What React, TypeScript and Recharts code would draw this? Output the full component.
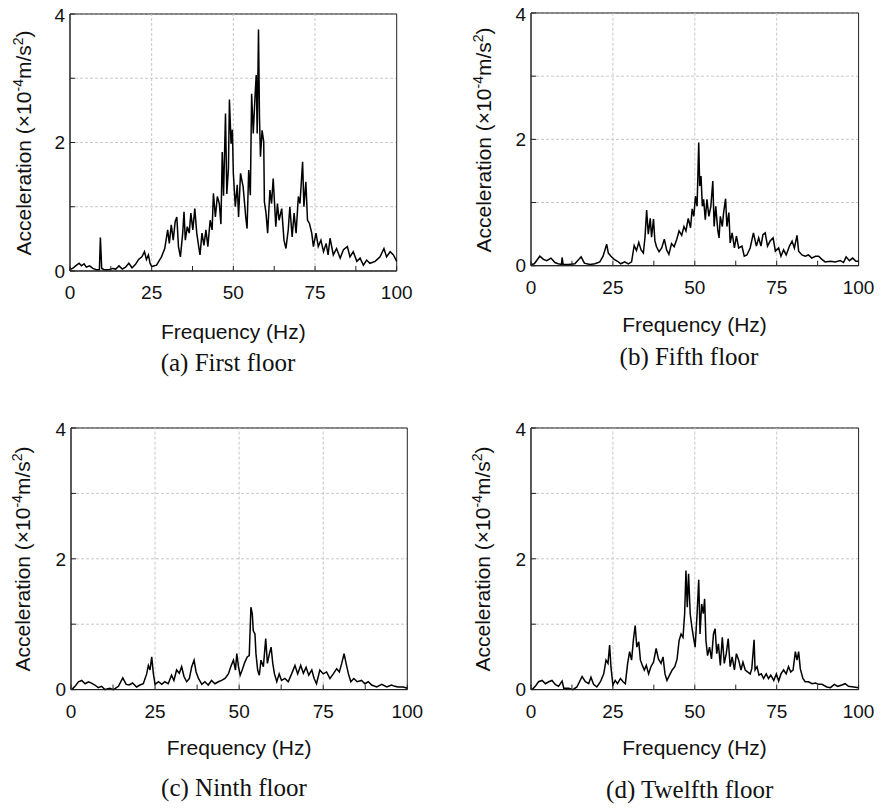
import { LineChart, Line, XAxis, YAxis, CartesianGrid, ReferenceLine, ReferenceArea } from 'recharts';

// values (Hz, x10^-4 m/s^2)
const firstFreq = [
  0, 1, 2, 2.8, 3.5, 4.3, 5, 6, 7, 8, 9, 9.3, 9.7, 10.5, 12, 13, 14, 15, 16, 17, 18, 19, 20, 21, 22, 22.8,
  23.4, 24, 24.5, 25, 26.5, 28, 29, 29.9, 30.4, 31, 31.6, 32.2, 32.7, 33.2, 33.8, 34.5, 34.9, 35.3, 35.9,
  36.5, 37, 37.6, 38.2, 38.8, 39.4, 39.8, 40.4, 41, 41.6, 42.2, 42.9, 43.5, 43.9, 44.5, 45.1, 45.7, 46.2,
  46.6, 47, 47.6, 48, 48.5, 48.8, 49.3, 49.7, 50, 50.6, 51.2, 51.6, 52.2, 53, 53.8, 54.2, 54.7, 55.2, 55.6,
  56.1, 56.6, 57, 57.3, 57.7, 58, 58.3, 58.8, 59.3, 59.5, 60, 60.5, 61.2, 61.7, 62.2, 63, 63.5, 64, 64.8,
  65.5, 66.1, 66.8, 67.3, 68, 68.6, 69.2, 69.9, 70.4, 71.2, 71.6, 72.2, 72.7, 73.3, 74, 74.5, 75.3, 76,
  76.8, 77.6, 78.4, 79, 79.6, 80.6, 81.6, 82.7, 83.7, 84.9, 85.7, 86.7, 87.8, 88.8, 89.8, 90.8, 91.8, 93.4,
  94.9, 96.1, 96.9, 98, 99, 100,
];
const firstAcc = [
  0.02, 0.05, 0.09, 0.12, 0.08, 0.11, 0.06, 0.08, 0.04, 0.02, 0.02, 0.52, 0.04, 0.02, 0.02, 0.04, 0.03, 0.08,
  0.03, 0.06, 0.12, 0.05, 0.1, 0.18, 0.22, 0.3, 0.18, 0.25, 0.12, 0.07, 0.09, 0.22, 0.35, 0.64, 0.43, 0.72,
  0.48, 0.77, 0.84, 0.38, 0.22, 0.59, 0.92, 0.48, 0.69, 0.59, 0.9, 0.64, 0.97, 0.59, 0.38, 0.25, 0.59, 0.4,
  0.64, 0.38, 0.79, 0.64, 1.21, 0.84, 1.16, 1.05, 0.73, 1.85, 1.17, 2.45, 1.2, 1.6, 2.67, 1.98, 2.2, 1.52,
  1.0, 1.34, 0.84, 1.52, 1.31, 0.84, 0.66, 1.57, 1.18, 2.76, 2.14, 2.68, 3.05, 2.14, 3.76, 2.4, 1.78, 2.19,
  2.01, 1.08, 0.9, 0.59, 1.26, 1.05, 1.44, 0.69, 1.05, 0.79, 0.97, 0.48, 0.35, 0.64, 1.0, 0.53, 0.9, 0.59,
  1.16, 1.05, 1.7, 1.0, 1.39, 0.79, 0.74, 0.59, 0.38, 0.59, 0.38, 0.48, 0.3, 0.43, 0.25, 0.51, 0.25, 0.35,
  0.2, 0.33, 0.38, 0.22, 0.3, 0.15, 0.2, 0.09, 0.17, 0.12, 0.15, 0.22, 0.35, 0.22, 0.3, 0.25, 0.15,
];

const fifthFreq = [
  0, 1, 2.7, 3.8, 4.8, 6.1, 7.3, 8.3, 9.3, 9.5, 9.8, 11.4, 13.4, 15.3, 16.3, 18, 19.5, 21, 22, 23.1, 23.6,
  24.4, 25.4, 26.4, 27.4, 28.6, 29.7, 30.7, 31.5, 32.2, 32.9, 33.6, 34.3, 34.8, 35.3, 35.8, 36.4, 36.8, 37.4,
  37.8, 38.3, 39.1, 39.9, 40.7, 41.4, 42.1, 42.9, 43.7, 44.5, 45.2, 46, 46.7, 47.3, 48, 48.7, 49.2, 49.7,
  50.2, 50.7, 51.2, 51.5, 51.9, 52.3, 52.7, 53.2, 53.7, 54.3, 54.9, 55.5, 55.9, 56.4, 57, 57.4, 57.8, 58.4,
  58.8, 59.4, 59.8, 60.4, 60.8, 61.4, 62.1, 62.7, 63.4, 64.4, 65.1, 65.9, 66.9, 67.9, 68.8, 69.5, 70.2, 70.8,
  71.5, 72.2, 73, 73.9, 74.6, 75.6, 76.3, 77.1, 77.9, 78.9, 79.7, 80.4, 81.2, 81.7, 82.7, 83.7, 84.7, 85.7,
  86.8, 87.8, 88.8, 89.8, 91.4, 92.9, 94.4, 95.4, 96.2, 97.2, 98.2, 99.2, 100,
];
const fifthAcc = [
  0.02, 0.03, 0.15, 0.1, 0.08, 0.12, 0.05, 0.03, 0.02, 0.13, 0.02, 0.02, 0.03, 0.14, 0.04, 0.02, 0.03, 0.06,
  0.15, 0.34, 0.2, 0.15, 0.1, 0.07, 0.03, 0.06, 0.03, 0.06, 0.32, 0.24, 0.37, 0.25, 0.2, 0.45, 0.88, 0.5,
  0.75, 0.45, 0.74, 0.4, 0.3, 0.22, 0.28, 0.42, 0.25, 0.18, 0.35, 0.3, 0.42, 0.55, 0.48, 0.62, 0.55, 0.75,
  0.6, 0.9, 0.78, 1.1, 0.94, 1.95, 1.26, 1.42, 0.94, 1.05, 0.73, 1.05, 0.78, 0.94, 1.34, 0.62, 0.94, 0.57,
  0.44, 0.78, 0.62, 0.84, 1.06, 0.62, 0.84, 0.36, 0.52, 0.28, 0.47, 0.28, 0.31, 0.15, 0.17, 0.28, 0.52, 0.31,
  0.44, 0.31, 0.49, 0.52, 0.31, 0.39, 0.44, 0.23, 0.28, 0.15, 0.25, 0.17, 0.31, 0.39, 0.28, 0.48, 0.23, 0.17,
  0.15, 0.17, 0.12, 0.15, 0.15, 0.1, 0.06, 0.07, 0.06, 0.08, 0.05, 0.14, 0.08, 0.12, 0.07, 0.07,
];

const ninthFreq = [
  0.2, 1.2, 2.2, 3.2, 4.2, 5.2, 6.1, 7.1, 8.1, 9.1, 10.1, 11.6, 12.6, 14.1, 15.4, 16.4, 17.3, 18.3, 19.5,
  20.5, 21.5, 22.5, 23, 23.5, 24, 24.5, 25, 26, 27, 27.9, 28.9, 29.9, 30.6, 31.4, 32.2, 32.9, 33.6, 34.4,
  35.2, 35.9, 36.6, 37.2, 37.9, 38.9, 39.8, 40.8, 41.8, 42.8, 43.8, 44.8, 45.8, 46.8, 47.5, 48.3, 48.9, 49.3,
  49.8, 50.3, 50.9, 51.7, 52.4, 53, 53.5, 53.9, 54.2, 54.7, 55, 55.5, 56, 56.5, 57.2, 57.9, 58.4, 59, 59.5,
  60, 60.5, 61.2, 61.9, 62.6, 63.6, 64.6, 65.6, 66.6, 67.4, 68.3, 69.1, 69.9, 70.7, 71.6, 72.3, 73, 74, 75,
  76, 77, 78, 79, 79.8, 80.5, 81.2, 81.8, 82.5, 83.2, 84.1, 85.1, 86.4, 87.4, 88.4, 89.4, 90.9, 92.4, 93.9,
  95.3, 96.3, 97.3, 98.8, 100,
];
const ninthAcc = [
  0, 0.05, 0.12, 0.14, 0.09, 0.12, 0.1, 0.07, 0.03, 0.05, 0, 0.02, 0, 0.05, 0.18, 0.08, 0.07, 0.1, 0.04, 0.07,
  0.09, 0.24, 0.37, 0.3, 0.5, 0.24, 0.08, 0.12, 0.08, 0.12, 0.09, 0.22, 0.14, 0.3, 0.25, 0.35, 0.2, 0.12, 0.17,
  0.35, 0.45, 0.27, 0.17, 0.08, 0.12, 0.07, 0.14, 0.09, 0.12, 0.14, 0.17, 0.24, 0.35, 0.45, 0.3, 0.55, 0.35,
  0.22, 0.3, 0.42, 0.5, 0.52, 1.26, 1.16, 0.9, 0.85, 0.55, 0.3, 0.22, 0.45, 0.35, 0.78, 0.4, 0.55, 0.65, 0.4,
  0.24, 0.12, 0.24, 0.14, 0.17, 0.12, 0.24, 0.37, 0.24, 0.37, 0.25, 0.34, 0.22, 0.3, 0.17, 0.09, 0.3, 0.24,
  0.27, 0.17, 0.24, 0.32, 0.27, 0.4, 0.55, 0.4, 0.24, 0.12, 0.17, 0.12, 0.14, 0.09, 0.12, 0.07, 0.04, 0.08,
  0.04, 0.07, 0.05, 0.04, 0.04, 0.02,
];

const twelfthFreq = [
  0.3, 1.3, 2.3, 3.4, 4.4, 5.4, 6.4, 7.4, 8.4, 9.5, 10, 11.5, 12.8, 14, 15.6, 16.6, 17.6, 18.3, 19.1, 20.1,
  21.2, 22.2, 22.9, 23.5, 24, 24.4, 25, 25.7, 26.4, 27.3, 28.1, 28.8, 29.5, 30.1, 30.7, 31.3, 31.8, 32.3,
  32.9, 33.4, 34, 34.6, 35.2, 35.9, 36.6, 37.4, 38.2, 38.9, 39.7, 40.3, 40.9, 41.5, 42.3, 43.1, 43.9, 44.6,
  45.2, 45.8, 46.4, 46.9, 47.3, 47.7, 48.1, 48.6, 49.1, 49.6, 50.1, 50.7, 51.2, 51.6, 52.1, 52.6, 53, 53.4,
  53.9, 54.5, 55.1, 55.7, 56.2, 56.7, 57.2, 57.8, 58.4, 59, 59.6, 60.2, 60.8, 61.4, 62.1, 62.7, 63.4, 64.1,
  64.7, 65.4, 66.1, 66.9, 67.4, 68.1, 68.4, 69, 69.6, 70.3, 71, 71.8, 72.5, 73.2, 74.1, 74.9, 75.6, 76.3,
  77.1, 77.9, 78.6, 79.3, 80, 80.7, 81.2, 81.7, 82.2, 83, 83.7, 84.7, 85.8, 86.8, 87.8, 88.8, 90.3, 91.4,
  92.6, 93.6, 94.9, 95.9, 96.9, 98.5, 100,
];
const twelfthAcc = [
  0, 0.05, 0.12, 0.14, 0.09, 0.12, 0.14, 0.08, 0.05, 0.13, 0.02, 0.02, 0, 0.04, 0.2, 0.12, 0.09, 0.19, 0.08,
  0.04, 0.12, 0.24, 0.45, 0.4, 0.68, 0.35, 0.07, 0.14, 0.09, 0.17, 0.12, 0.09, 0.4, 0.58, 0.45, 0.78, 0.98,
  0.65, 0.73, 0.45, 0.37, 0.3, 0.37, 0.24, 0.35, 0.42, 0.63, 0.47, 0.4, 0.5, 0.24, 0.14, 0.22, 0.3, 0.35,
  0.47, 0.75, 0.85, 0.8, 1.16, 1.82, 1.26, 1.77, 1.16, 0.96, 0.8, 0.65, 1.16, 1.68, 0.85, 1.31, 1.16, 1.39,
  0.75, 0.52, 0.65, 0.47, 0.85, 0.93, 0.55, 0.7, 0.37, 0.8, 0.4, 0.55, 0.78, 0.35, 0.5, 0.3, 0.55, 0.45, 0.3,
  0.42, 0.3, 0.27, 0.24, 0.32, 0.76, 0.3, 0.35, 0.22, 0.24, 0.17, 0.24, 0.17, 0.22, 0.14, 0.24, 0.13, 0.24,
  0.3, 0.24, 0.35, 0.27, 0.3, 0.58, 0.45, 0.58, 0.32, 0.17, 0.12, 0.12, 0.09, 0.1, 0.08, 0.08, 0.04, 0.03,
  0.08, 0.05, 0.07, 0.09, 0.05, 0.04, 0.03,
];

const xTicks = [0, 12.5, 25, 37.5, 50, 62.5, 75, 87.5, 100];
const xLabeled = [0, 25, 50, 75, 100];
const yTicks = [0, 1, 2, 3, 4];
const yLabeled = [0, 2, 4];
const xGrid = [25, 50, 75];

const SANS = '"Liberation Sans", Arial, sans-serif';
const SERIF = '"Liberation Serif", "Times New Roman", serif';
const AXIS = '#222';
const GRID = '#c8c8c8';

interface PanelProps {
  freq: number[];
  acc: number[];
  caption: string;
  // plot rectangle (page px)
  plot: { l: number; t: number; r: number; b: number };
  yTitleX: number;
  freqY: number;
  captionX: number;
  captionY: number;
}

function Panel({ freq, acc, caption, plot, yTitleX, freqY, captionX, captionY }: PanelProps) {
  const rows = freq.map((f, i) => ({ f, a: acc[i] }));
  const w = plot.r - plot.l + 70;
  const h = plot.b - plot.t + 45;
  const midX = (plot.l + plot.r) / 2;
  const midY = (plot.t + plot.b) / 2;

  return (
    <>
      <div style={{ position: 'absolute', left: plot.l - 50, top: plot.t - 10 }}>
        <LineChart width={w} height={h} data={rows} margin={{ top: 10, right: 20, bottom: 0, left: 0 }}>
          <CartesianGrid vertical={false} stroke={GRID} strokeDasharray="3 2" />
          {xGrid.map((g) => (
            <ReferenceLine key={g} x={g} stroke={GRID} strokeDasharray="3 2" />
          ))}
          {/* plot frame */}
          <ReferenceArea x1={0} x2={100} y1={0} y2={4} fill="none" stroke={AXIS} strokeWidth={1} />
          <XAxis
            dataKey="f"
            type="number"
            domain={[0, 100]}
            ticks={xTicks}
            height={35}
            tickSize={-5}
            tickMargin={20}
            tickFormatter={(v: number) => (xLabeled.includes(v) ? String(v) : '')}
            tick={{ fontSize: 19, fill: '#111', fontFamily: SANS }}
            axisLine={{ stroke: AXIS }}
            tickLine={{ stroke: AXIS }}
          />
          <YAxis
            domain={[0, 4]}
            ticks={yTicks}
            width={50}
            tickSize={-5}
            tickMargin={10}
            tickFormatter={(v: number) => (yLabeled.includes(v) ? String(v) : '')}
            tick={{ fontSize: 19, fill: '#111', fontFamily: SANS }}
            axisLine={{ stroke: AXIS }}
            tickLine={{ stroke: AXIS }}
          />
          <Line
            type="linear"
            dataKey="a"
            stroke="#000"
            strokeWidth={1.5}
            dot={false}
            isAnimationActive={false}
          />
        </LineChart>
      </div>
      <div
        style={{
          position: 'absolute',
          left: yTitleX,
          top: midY,
          transform: 'translate(-50%, -50%) rotate(-90deg)',
          whiteSpace: 'nowrap',
          fontFamily: SANS,
          fontSize: 21,
          color: '#111',
        }}
      >
        Acceleration (×10<sup style={{ fontSize: 14 }}>-4</sup>m/s<sup style={{ fontSize: 14 }}>2</sup>)
      </div>
      <div
        style={{
          position: 'absolute',
          left: midX,
          top: freqY,
          transform: 'translate(-50%, -50%)',
          whiteSpace: 'nowrap',
          fontFamily: SANS,
          fontSize: 21,
          color: '#111',
        }}
      >
        Frequency (Hz)
      </div>
      <div
        style={{
          position: 'absolute',
          left: captionX,
          top: captionY,
          transform: 'translate(-50%, -50%)',
          whiteSpace: 'nowrap',
          fontFamily: SERIF,
          fontSize: 25,
          color: '#111',
        }}
      >
        {caption}
      </div>
    </>
  );
}

export default function App() {
  return (
    <div style={{ position: 'absolute', left: 0, top: 0, width: 880, height: 808, background: '#fff' }}>
      <Panel
        freq={firstFreq}
        acc={firstAcc}
        caption="(a) First floor"
        plot={{ l: 70, t: 14, r: 396.7, b: 271 }}
        yTitleX={22.7}
        freqY={332}
        captionX={228}
        captionY={363}
      />
      <Panel
        freq={fifthFreq}
        acc={fifthAcc}
        caption="(b) Fifth floor"
        plot={{ l: 530.7, t: 13.3, r: 858.3, b: 266 }}
        yTitleX={482.7}
        freqY={325}
        captionX={689}
        captionY={357}
      />
      <Panel
        freq={ninthFreq}
        acc={ninthAcc}
        caption="(c) Ninth floor"
        plot={{ l: 71, t: 427.7, r: 407.3, b: 689.3 }}
        yTitleX={21.7}
        freqY={748}
        captionX={234}
        captionY={788}
      />
      <Panel
        freq={twelfthFreq}
        acc={twelfthAcc}
        caption="(d) Twelfth floor"
        plot={{ l: 530.7, t: 427.7, r: 858.3, b: 689.3 }}
        yTitleX={481.7}
        freqY={748}
        captionX={689.7}
        captionY={790}
      />
    </div>
  );
}
